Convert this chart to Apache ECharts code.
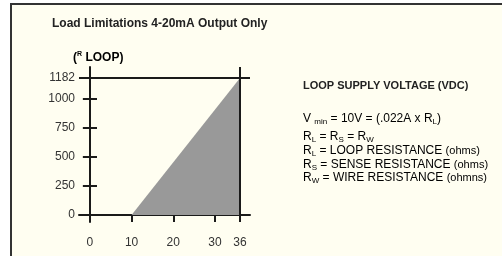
<!DOCTYPE html>
<html>
<head>
<meta charset="utf-8">
<script src="https://cdn.jsdelivr.net/npm/echarts@6/dist/echarts.min.js"></script>
<style>
	html, body { margin: 0; padding: 0; background: #ffffff; }
	#frame {
		position: absolute; left: 10px; top: 3px; width: 492px; height: 253px;
		border-left: 2px solid #333; border-top: 2px solid #333;
		background: #fffef1;
	}
	#load_chart { position: absolute; left: 0; top: 0; width: 502px; height: 256px; }
</style>
</head>
<body>
<div id="frame"></div>
<div id="load_chart"></div>
<script>
// supply voltage (V) vs max loop resistance (ohms)
var supplyVolts = [10, 36];
var loopOhms = [0, 1182];
var xTicks = [0, 10, 20, 30, 36];
var yTicks = [0, 250, 500, 750, 1000, 1182];

var FONT = "'Liberation Sans', Arial, sans-serif";

function loadChart() {
	var myChart = echarts.init(document.getElementById('load_chart'));

	var body = { fontSize: 12, fontFamily: FONT, color: '#222', lineHeight: 14 };
	var sub = { fontSize: 8, fontFamily: FONT, color: '#222', lineHeight: 8, verticalAlign: 'bottom' };
	var rich = { a: body, s: sub, p: { fontSize: 11, fontFamily: FONT, color: '#444', lineHeight: 14 } };

	function note(y, text) {
		return { type: 'text', left: 303, top: y, style: { text: text, rich: rich } };
	}
	function plain(v) { return String(v); }

	var tickStyle = { color: '#1a1a1a', width: 2 };

	var series = [{
		type: 'line',
		data: supplyVolts.map(function(v, i) { return [v, loopOhms[i]]; }),
		symbol: 'none',
		lineStyle: { width: 0 },
		areaStyle: { color: '#999999', opacity: 1 },
		silent: true,
		markLine: {
			silent: true,
			symbol: 'none',
			label: { show: false },
			lineStyle: { color: '#1a1a1a', width: 2, type: 'solid' },
			data: [{ xAxis: xTicks[xTicks.length - 1] }, { yAxis: yTicks[yTicks.length - 1] }]
		}
	}];

	var option = {
		animation: false,
		title: {
			text: 'Load Limitations 4-20mA Output Only',
			left: 47,
			top: 13,
			textStyle: { fontSize: 12, fontWeight: 'bold', fontFamily: FONT, color: '#222' }
		},
		grid: { left: 79, right: 252, top: 67, bottom: 34 },
		xAxis: {
			type: 'value',
			min: -2.6,
			max: 38.4,
			axisLine: { onZero: true, lineStyle: tickStyle },
			axisTick: { customValues: xTicks, length: 7, lineStyle: tickStyle },
			axisLabel: { customValues: xTicks, formatter: plain, margin: 15, fontSize: 12, color: '#333', fontFamily: FONT },
			splitLine: { show: false }
		},
		yAxis: [{
			type: 'value',
			position: 'left',
			min: -60,
			max: 1277,
			axisLine: { onZero: true, lineStyle: tickStyle },
			axisTick: { customValues: yTicks, length: 7, lineStyle: tickStyle },
			axisLabel: { customValues: yTicks, formatter: plain, margin: 4, fontSize: 12, color: '#333', fontFamily: FONT },
			splitLine: { show: false }
		}, {
			// inner half of the crossing ticks
			type: 'value',
			position: 'left',
			offset: -11,
			min: -60,
			max: 1277,
			axisLine: { show: false, onZero: false },
			axisTick: { customValues: yTicks, inside: true, length: 7, lineStyle: tickStyle },
			axisLabel: { show: false },
			splitLine: { show: false }
		}],
		graphic: [
			{
				type: 'text', left: 73, top: 51,
				style: {
					text: '{a|(}{r|R}{a| LOOP)}',
					rich: {
						a: { fontSize: 12, fontWeight: 'bold', fontFamily: FONT, color: '#222', lineHeight: 14 },
						r: { fontSize: 7, fontWeight: 'bold', fontFamily: FONT, color: '#222', lineHeight: 7, verticalAlign: 'top' }
					}
				}
			},
			{
				type: 'text', left: 303, top: 80,
				style: { text: 'LOOP SUPPLY VOLTAGE (VDC)', fontSize: 11, fontWeight: 'bold', fontFamily: FONT, fill: '#222' }
			},
			note(113, '{a|V }{s|min}{a| = 10V = (.022A x R}{s|L}{a|)}'),
			note(131, '{a|R}{s|L}{a| = R}{s|S}{a| = R}{s|W}'),
			note(145, '{a|R}{s|L}{a| = LOOP RESISTANCE }{p|(ohms)}'),
			note(159, '{a|R}{s|S}{a| = SENSE RESISTANCE }{p|(ohms)}'),
			note(172, '{a|R}{s|W}{a| = WIRE RESISTANCE }{p|(ohmns)}')
		],
		series: series
	};

	myChart.setOption(option);
	window.onresize = myChart.resize;
}

loadChart();
</script>
</body>
</html>
